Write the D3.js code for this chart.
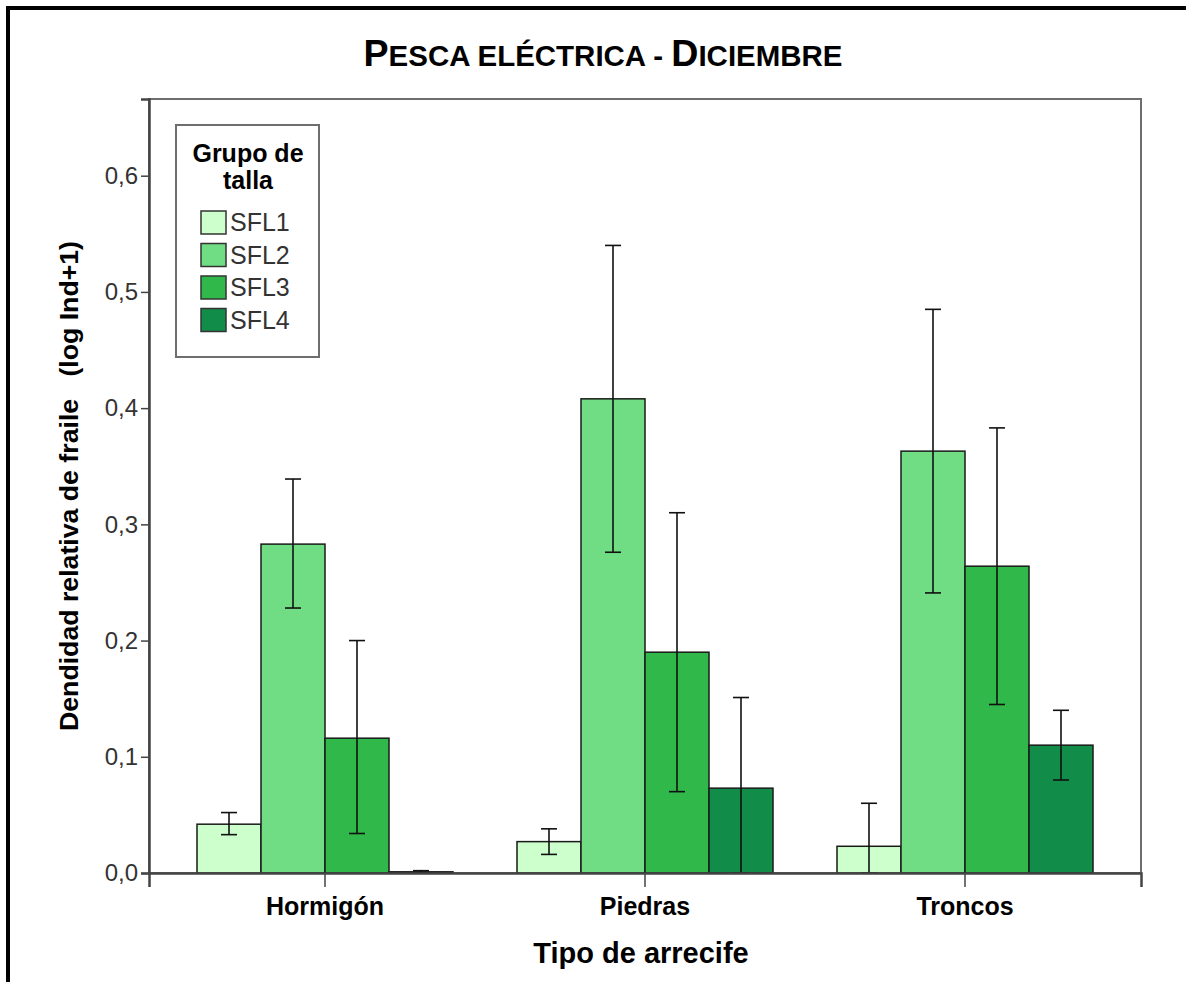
<!DOCTYPE html>
<html>
<head>
<meta charset="utf-8">
<script src="https://cdn.jsdelivr.net/npm/d3@7"></script>
<style>
  html, body { margin: 0; padding: 0; background: #fff; }
  svg { display: block; }
  text { font-family: "Liberation Sans", Arial, sans-serif; }
</style>
</head>
<body>
<svg id="chart" width="1186" height="982"></svg>
<script>
// Reef types on the x axis and size groups within each reef type
const categories = ["Hormigón", "Piedras", "Troncos"];
const groups = ["SFL1", "SFL2", "SFL3", "SFL4"];
const groupColors = ["#ccffcc", "#70dc84", "#31b84b", "#128c49"];

// Mean relative density (log Ind+1) per reef type, one array per size group
const meanSFL1 = [0.042, 0.027, 0.023];
const meanSFL2 = [0.283, 0.408, 0.363];
const meanSFL3 = [0.116, 0.190, 0.264];
const meanSFL4 = [0.001, 0.073, 0.110];

// Error bar bounds per size group
const lowSFL1 = [0.033, 0.016, 0.000];
const highSFL1 = [0.052, 0.038, 0.060];
const lowSFL2 = [0.228, 0.276, 0.241];
const highSFL2 = [0.339, 0.540, 0.485];
const lowSFL3 = [0.034, 0.070, 0.145];
const highSFL3 = [0.200, 0.310, 0.383];
const lowSFL4 = [0.000, 0.000, 0.080];
const highSFL4 = [0.002, 0.151, 0.140];

const yTicks = [0, 0.1, 0.2, 0.3, 0.4, 0.5, 0.6];

const means = [meanSFL1, meanSFL2, meanSFL3, meanSFL4];
const lows = [lowSFL1, lowSFL2, lowSFL3, lowSFL4];
const highs = [highSFL1, highSFL2, highSFL3, highSFL4];

const rows = [];
categories.forEach((c, ci) => {
  groups.forEach((g, gi) => {
    rows.push({ cat: c, grp: g, gi, mean: means[gi][ci], low: lows[gi][ci], high: highs[gi][ci] });
  });
});

const svg = d3.select("#chart");

// Outer frame (top and left edges)
svg.append("rect").attr("x", 8).attr("y", 8).attr("width", 1200).attr("height", 1000)
  .attr("fill", "none").attr("stroke", "#000").attr("stroke-width", 4);

const plot = { left: 149, right: 1141, top: 99, bottom: 873 };

const x = d3.scaleBand().domain(categories).range([plot.left, plot.right])
  .paddingInner(0).paddingOuter(0.05);
const xg = d3.scaleBand().domain(groups).range([0, x.bandwidth() * 0.8]);
const y = d3.scaleLinear().domain([0, 0.666]).range([plot.bottom, plot.top]);

// Plot frame
svg.append("rect")
  .attr("x", plot.left).attr("y", plot.top)
  .attr("width", plot.right - plot.left).attr("height", plot.bottom - plot.top)
  .attr("fill", "#fff").attr("stroke", "#6e6e6e").attr("stroke-width", 2);

// Bars
const barG = svg.append("g");
const groupOffset = x.bandwidth() * 0.1;
barG.selectAll("rect").data(rows).join("rect")
  .attr("x", d => x(d.cat) + groupOffset + xg(d.grp))
  .attr("y", d => y(d.mean))
  .attr("width", xg.bandwidth())
  .attr("height", d => y(0) - y(d.mean))
  .attr("fill", d => groupColors[d.gi])
  .attr("stroke", "#1a1a1a").attr("stroke-width", 1.5);

// Error bars
const errG = svg.append("g").attr("stroke", "#111").attr("stroke-width", 1.6);
rows.forEach(d => {
  const cx = x(d.cat) + groupOffset + xg(d.grp) + xg.bandwidth() / 2;
  errG.append("line").attr("x1", cx).attr("x2", cx).attr("y1", y(d.low)).attr("y2", y(d.high));
  errG.append("line").attr("x1", cx - 8).attr("x2", cx + 8).attr("y1", y(d.high)).attr("y2", y(d.high));
  errG.append("line").attr("x1", cx - 8).attr("x2", cx + 8).attr("y1", y(d.low)).attr("y2", y(d.low));
});

// Y axis
const yAxis = d3.axisLeft(y).tickValues(yTicks).tickSize(8).tickPadding(3)
  .tickFormat(d => d3.format(".1f")(d).replace(".", ","));
const yAx = svg.append("g").attr("transform", `translate(${plot.left},0)`).call(yAxis);
yAx.select(".domain").attr("stroke", "#444").attr("stroke-width", 2.5);
yAx.selectAll(".tick line").attr("stroke", "#444").attr("stroke-width", 1.5);
yAx.selectAll(".tick text").attr("font-size", 24).attr("fill", "#333")
  .style("font-family", "'Liberation Sans', Arial, sans-serif");

// X axis
const xAxis = d3.axisBottom(x).tickSize(14).tickPadding(10);
const xAx = svg.append("g").attr("transform", `translate(0,${plot.bottom})`).call(xAxis);
xAx.select(".domain").attr("stroke", "#444").attr("stroke-width", 2.5);
xAx.selectAll(".tick line").attr("stroke", "#444").attr("stroke-width", 1.5);
xAx.selectAll(".tick text").attr("font-size", 25).attr("font-weight", "bold").attr("fill", "#000")
  .style("font-family", "'Liberation Sans', Arial, sans-serif");

// Axis titles
svg.append("text").attr("x", 641).attr("y", 963).attr("text-anchor", "middle")
  .attr("font-size", 29).attr("font-weight", "bold").text("Tipo de arrecife");

svg.append("text")
  .attr("transform", "translate(78,486) rotate(-90)")
  .attr("text-anchor", "middle").attr("font-size", 26).attr("font-weight", "bold")
  .attr("textLength", 490).attr("lengthAdjust", "spacingAndGlyphs")
  .style("white-space", "pre")
  .text("Dendidad relativa de fraile   (log Ind+1)");

// Title in small caps
const title = svg.append("text").attr("x", 603).attr("y", 66).attr("text-anchor", "middle")
  .attr("font-weight", "bold").attr("fill", "#000")
  .attr("textLength", 479).attr("lengthAdjust", "spacingAndGlyphs");
[["P", 37], ["ESCA ELÉCTRICA - ", 29], ["D", 37], ["ICIEMBRE", 29]].forEach(([t, s]) => {
  title.append("tspan").attr("font-size", s).text(t);
});

// Legend
const lg = svg.append("g");
lg.append("rect").attr("x", 176).attr("y", 125).attr("width", 143).attr("height", 232)
  .attr("fill", "#fff").attr("stroke", "#6e6e6e").attr("stroke-width", 2);
lg.append("text").attr("x", 248).attr("y", 162).attr("text-anchor", "middle")
  .attr("font-size", 25).attr("font-weight", "bold").text("Grupo de");
lg.append("text").attr("x", 248).attr("y", 189).attr("text-anchor", "middle")
  .attr("font-size", 25).attr("font-weight", "bold").text("talla");
groups.forEach((g, i) => {
  const yy = 211 + i * 32.5;
  lg.append("rect").attr("x", 201).attr("y", yy).attr("width", 25).attr("height", 23)
    .attr("fill", groupColors[i]).attr("stroke", "#333").attr("stroke-width", 1.5);
  lg.append("text").attr("x", 230).attr("y", yy + 20).attr("font-size", 25)
    .attr("fill", "#333").text(g);
});
</script>
</body>
</html>
